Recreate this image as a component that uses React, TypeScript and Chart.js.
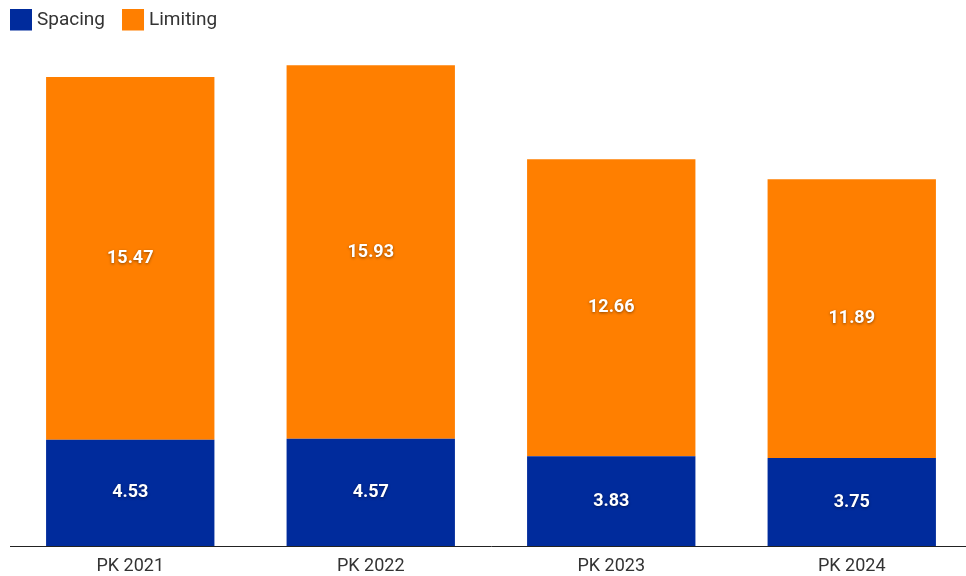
import React, { useEffect, useRef } from "react";
import { Chart, registerables } from "chart.js";

Chart.register(...registerables);

const categories = ["PK 2021", "PK 2022", "PK 2023", "PK 2024"];
const spacing = [4.53, 4.57, 3.83, 3.75];
const limiting = [15.47, 15.93, 12.66, 11.89];
const seriesNames = ["Spacing", "Limiting"];
const colors = ["#002B9C", "#FF7F00"];

const FONT = "Roboto, 'Noto Sans', sans-serif";

const valueLabels = {
  id: "valueLabels",
  afterDatasetsDraw(chart: any) {
    const ctx = chart.ctx;
    ctx.save();
    ctx.font = `bold 18px ${FONT}`;
    ctx.fillStyle = "#ffffff";
    ctx.textAlign = "center";
    ctx.textBaseline = "middle";
    ctx.shadowColor = "rgba(0,0,0,0.45)";
    ctx.shadowBlur = 3;
    ctx.shadowOffsetX = 0;
    ctx.shadowOffsetY = 1;
    chart.data.datasets.forEach((ds: any, di: number) => {
      const meta = chart.getDatasetMeta(di);
      meta.data.forEach((bar: any, i: number) => {
        const v = ds.data[i];
        const cy = (bar.y + bar.base) / 2;
        ctx.fillText(v.toFixed(2), bar.x, cy);
      });
    });
    ctx.restore();
  },
};

const topLegend = {
  id: "topLegend",
  afterDraw(chart: any) {
    const ctx = chart.ctx;
    ctx.save();
    ctx.font = `19px ${FONT}`;
    ctx.textBaseline = "middle";
    ctx.textAlign = "left";
    let x = 10;
    const y = 9;
    const box = 22;
    chart.data.datasets.forEach((ds: any) => {
      ctx.fillStyle = ds.backgroundColor;
      ctx.fillRect(x, y, box, box - 0.5);
      x += box + 5;
      ctx.fillStyle = "#333333";
      ctx.fillText(ds.label, x, y + box / 2);
      x += ctx.measureText(ds.label).width + 17;
    });
    ctx.restore();
  },
};

export default function App() {
  const ref = useRef<HTMLCanvasElement | null>(null);
  useEffect(() => {
    if (!ref.current) return;
    const chart = new Chart(ref.current, {
      type: "bar",
      data: {
        labels: categories,
        datasets: [
          { label: seriesNames[0], data: spacing, backgroundColor: colors[0], borderWidth: 0 },
          { label: seriesNames[1], data: limiting, backgroundColor: colors[1], borderWidth: 0 },
        ],
      },
      options: {
        animation: false,
        responsive: true,
        maintainAspectRatio: false,
        layout: { padding: { left: 0, right: 0, top: 40, bottom: 0 } },
        datasets: { bar: { categoryPercentage: 1, barPercentage: 0.7 } },
        plugins: {
          legend: { display: false },
          tooltip: { enabled: false },
        },
        scales: {
          x: {
            stacked: true,
            grid: { display: false, drawTicks: false },
            border: { display: true, color: "#222222", width: 1 },
            ticks: { color: "#333333", padding: 10, font: { family: FONT, size: 18 } },
            afterFit: (s: any) => {
              s.height = 30;
            },
          },
          y: {
            stacked: true,
            display: true,
            min: 0,
            max: 506 / 23.45,
            grid: { display: false, drawTicks: false },
            border: { display: false },
            ticks: { display: false },
            afterFit: (s: any) => {
              s.width = 10;
            },
          },
        },
      },
      plugins: [valueLabels, topLegend],
    });
    return () => chart.destroy();
  }, []);
  return (
    <div style={{ position: "fixed", left: 0, top: 0, width: 966, height: 576, overflow: "hidden", background: "#fff" }}>
      <div style={{ position: "absolute", left: 0, top: 0, width: 972, height: 576 }}>
        <canvas ref={ref} />
      </div>
    </div>
  );
}
